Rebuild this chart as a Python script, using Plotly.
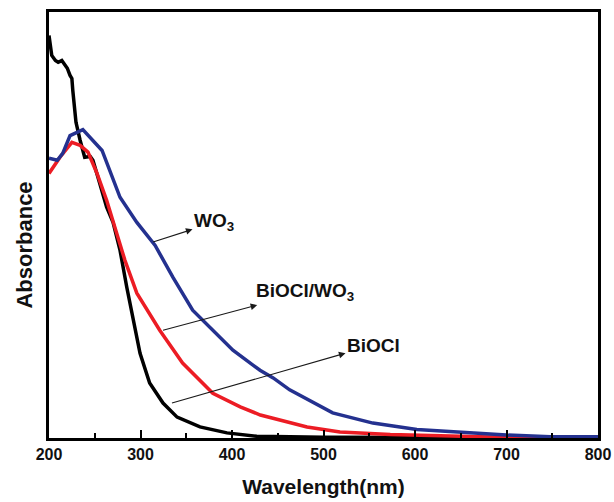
import plotly.graph_objects as go

# UV-vis diffuse reflectance spectra (absorbance, arbitrary units)
wl_biocl = [200, 203, 207, 210, 214, 220, 223, 225, 226, 229.5, 234, 239, 245, 248,
            253.5, 263, 270, 277.6, 285, 292, 299.5, 310, 324.6, 340, 365, 394.5,
            427, 500, 600, 700, 800]
abs_biocl = [0.945, 0.898, 0.886, 0.882, 0.886, 0.868, 0.851, 0.844, 0.816, 0.741,
             0.699, 0.659, 0.661, 0.652, 0.612, 0.542, 0.506, 0.441, 0.354, 0.277,
             0.199, 0.129, 0.082, 0.049, 0.026, 0.012, 0.004, 0.002, 0.001, 0.001, 0.001]

wl_comp = [200, 212, 225, 234, 242.6, 252.5, 263, 274, 283, 296, 321, 346, 379,
           409, 431, 482, 518, 573, 638, 693, 800]
abs_comp = [0.621, 0.659, 0.694, 0.687, 0.671, 0.621, 0.558, 0.481, 0.417, 0.340,
            0.253, 0.176, 0.105, 0.073, 0.054, 0.026, 0.014, 0.008, 0.005, 0.002, 0.002]

wl_wo3 = [200, 209, 215, 223, 237, 245, 258, 277.6, 296, 316, 335.5, 357, 376,
          401, 430.6, 445, 463, 510, 554, 602, 700, 748, 800]
abs_wo3 = [0.657, 0.652, 0.668, 0.710, 0.724, 0.706, 0.675, 0.565, 0.506, 0.452,
           0.377, 0.300, 0.260, 0.206, 0.159, 0.141, 0.113, 0.059, 0.035, 0.020,
           0.007, 0.003, 0.003]

# Curve labels: (text, point on the curve, label centre)
labels = [
    ("WO<sub>3</sub>", (313.7, 0.460), (380.3, 0.506)),
    ("BiOCl/WO<sub>3</sub>", (324.6, 0.253), (479.8, 0.342)),
    ("BiOCl", (334.4, 0.082), (554.6, 0.218)),
]

FONT = "Liberation Sans, Arial, sans-serif"

fig = go.Figure()
fig.add_trace(go.Scatter(x=wl_biocl, y=abs_biocl, mode="lines",
                         line=dict(color="#000000", width=3.5), name="BiOCl"))
fig.add_trace(go.Scatter(x=wl_comp, y=abs_comp, mode="lines",
                         line=dict(color="#ec1c24", width=3.5), name="BiOCl/WO3"))
fig.add_trace(go.Scatter(x=wl_wo3, y=abs_wo3, mode="lines",
                         line=dict(color="#24318f", width=3.5), name="WO3"))

for text, point, centre in labels:
    # label with a thin pointer running from the curve to the text
    fig.add_annotation(x=point[0], y=point[1], ax=centre[0], ay=centre[1],
                       xref="x", yref="y", axref="x", ayref="y",
                       text=text, showarrow=True, arrowside="start",
                       arrowhead=2, startarrowhead=2, startarrowsize=1.2,
                       arrowsize=1.2, arrowwidth=1.1, arrowcolor="#1a1a1a",
                       standoff=0, startstandoff=1, borderpad=0,
                       font=dict(family=FONT, size=19, color="#111111", weight="bold"))

# vertical axis caption
fig.add_annotation(x=-0.0464, y=0.453, xref="paper", yref="paper",
                   text="Absorbance", textangle=-90, showarrow=False,
                   xanchor="center", yanchor="middle",
                   font=dict(family=FONT, size=22, color="#111111", weight="bold"))

fig.update_layout(
    width=614, height=502,
    margin=dict(l=49, r=16, t=12, b=64),
    paper_bgcolor="white", plot_bgcolor="white",
    showlegend=False,
    font=dict(family=FONT, color="#111111"),
)
fig.update_xaxes(
    range=[200, 800], tickvals=[200, 300, 400, 500, 600, 700, 800],
    ticks="inside", ticklen=8, tickwidth=2, tickcolor="black",
    minor=dict(ticks="inside", ticklen=5, tickwidth=2, tickcolor="black", dtick=50),
    showline=True, linewidth=2.5, linecolor="black", mirror=True,
    showgrid=False, zeroline=False, automargin=False,
    tickfont=dict(family=FONT, size=16, color="#111111", weight="bold"),
    title=dict(text="Wavelength(nm)", standoff=18,
               font=dict(family=FONT, size=21, color="#111111", weight="bold")),
)
fig.update_yaxes(
    range=[0, 1], showticklabels=False, ticks="",
    showline=True, linewidth=2.5, linecolor="black", mirror=True,
    showgrid=False, zeroline=False, automargin=False,
)

fig.write_html("out.html")
